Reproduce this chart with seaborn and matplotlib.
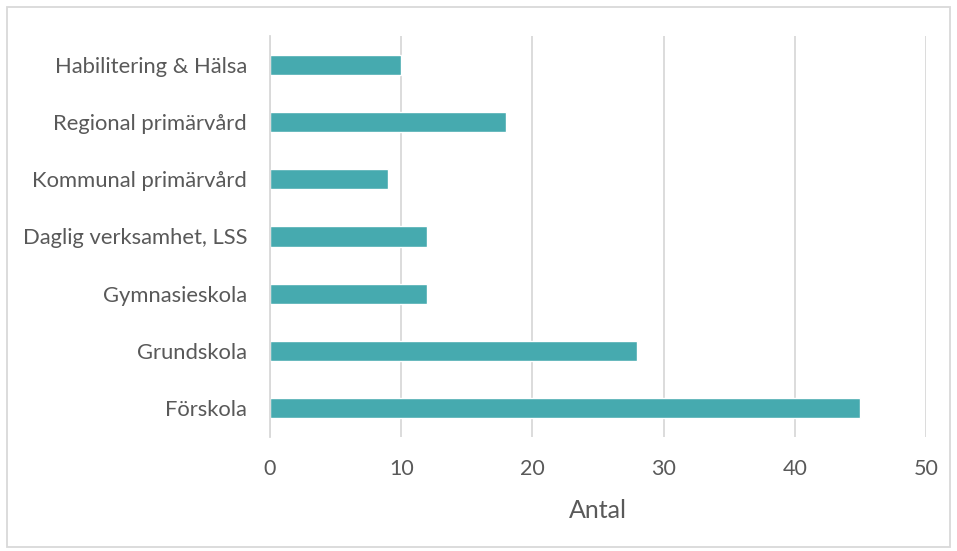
import matplotlib
matplotlib.use("Agg")
import matplotlib.pyplot as plt
import seaborn as sns
import pandas as pd
from matplotlib.patches import Rectangle

categories = ["Habilitering & Hälsa", "Regional primärvård", "Kommunal primärvård",
              "Daglig verksamhet, LSS", "Gymnasieskola", "Grundskola", "Förskola"]
values = [10, 18, 9, 12, 12, 28, 45]
xticks = [0, 10, 20, 30, 40, 50]

sns.set_theme(style="white")
plt.rcParams['font.family'] = ['Lato', 'DejaVu Sans']
text_color = "#595959"

df = pd.DataFrame({"kategori": categories, "antal": values})

fig = plt.figure(figsize=(9.57, 5.51), dpi=100)
ax = fig.add_axes([0.2821, 0.2069, 0.9676 - 0.2821, 0.9347 - 0.2069])

sns.barplot(data=df, x="antal", y="kategori", orient="h", color="#46AAAF",
            width=0.35, saturation=1, ax=ax)

ax.set_xlim(0, 50)
ax.set_ylim(6.5, -0.5)
ax.set_xticks(xticks)
ax.set_xticklabels([str(t) for t in xticks])
ax.xaxis.grid(True, color="#D9D9D9", linewidth=1.3)
ax.set_axisbelow(True)
for s in ["top", "right", "bottom"]:
    ax.spines[s].set_visible(False)
ax.spines["left"].set_color("#D9D9D9")
ax.spines["left"].set_linewidth(1.3)
ax.tick_params(axis="both", length=0, colors=text_color)
ax.tick_params(axis="y", labelsize=15.8, pad=16.5)
ax.tick_params(axis="x", labelsize=15.5, pad=16)
ax.set_ylabel("")
ax.set_xlabel("Antal", fontsize=18, color=text_color, labelpad=14)

fig.patches.append(Rectangle((7 / 957, 1 - 547 / 551), 943 / 957, 540 / 551,
                             transform=fig.transFigure, fill=False,
                             edgecolor="#D9D9D9", linewidth=1.3))

fig.savefig("out.png", dpi=100)
